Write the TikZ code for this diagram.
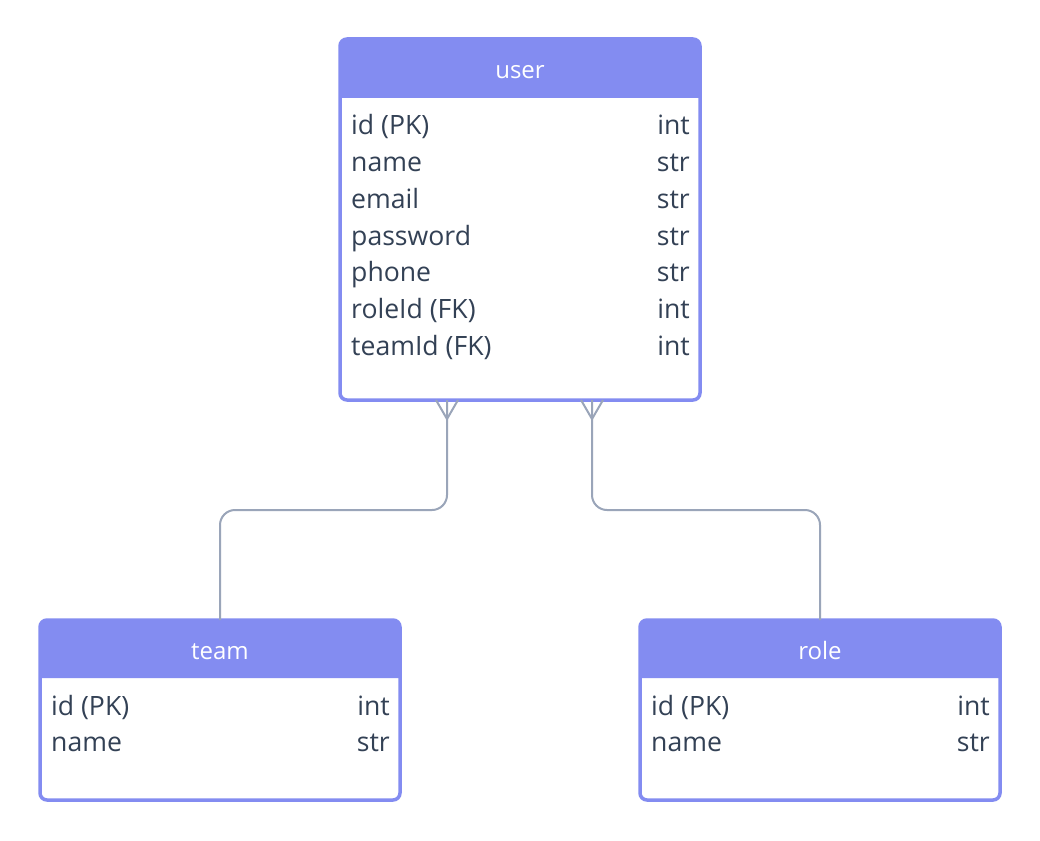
\documentclass[tikz,border=0pt]{standalone}
\usepackage{fontspec}
\setmainfont{Open Sans}

\definecolor{erhead}{HTML}{838CF1}
\definecolor{erline}{HTML}{9AA5B9}
\definecolor{ertext}{HTML}{334155}

\tikzset{
    tablebox/.style={draw=erhead, line width=3.5pt, rounded corners=7pt,
        minimum width=360pt, inner sep=0pt, outer sep=0pt},
    tabletitle/.style={text=white, font=\fontsize{24}{28}\selectfont, anchor=base, inner sep=0pt},
    field/.style={text=ertext, font=\fontsize{26.6}{30}\selectfont, anchor=base west, inner sep=0pt},
    ftype/.style={text=ertext, font=\fontsize{26.6}{30}\selectfont, anchor=base east, inner sep=0pt},
    rel/.style={draw=erline, line width=2pt, rounded corners=15pt},
    crow/.style={draw=erline, line width=2pt}
}

\begin{document}
\begin{tikzpicture}[x=1pt, y=-1pt]
            \fill[white] (0,0) rectangle (1040,840);

            % tables
            \node[tablebox, minimum height=361pt] (user) at (520,219.5) {};
            \node[tablebox, minimum height=180pt] (team) at (220,710) {};
            \node[tablebox, minimum height=180pt] (role) at (820,710) {};

            % headers
            \fill[erhead] ([yshift=-59pt]user.north west) [rounded corners=7pt] -- (user.north west)
                -- (user.north east) [sharp corners] -- ([yshift=-59pt]user.north east) -- cycle;
            \fill[erhead] ([yshift=-58pt]team.north west) [rounded corners=7pt] -- (team.north west)
                -- (team.north east) [sharp corners] -- ([yshift=-58pt]team.north east) -- cycle;
            \fill[erhead] ([yshift=-58pt]role.north west) [rounded corners=7pt] -- (role.north west)
                -- (role.north east) [sharp corners] -- ([yshift=-58pt]role.north east) -- cycle;

            \node[tabletitle] (user-title) at (520,79) {user};
            \node[tabletitle] (team-title) at (220,659) {team};
            \node[tabletitle] (role-title) at (820,659) {role};

            % user fields
            \node[field] (user-id) at (351,135) {id (PK)};
            \node[field] (user-name) at (351,171.7) {name};
            \node[field] (user-email) at (351,208.3) {email};
            \node[field] (user-password) at (351,245) {password};
            \node[field] (user-phone) at (351,281.7) {phone};
            \node[field] (user-roleid) at (351,318.3) {roleId (FK)};
            \node[field] (user-teamid) at (351,355) {teamId (FK)};
            \node[ftype] (user-id-t) at (690,135) {int};
            \node[ftype] (user-name-t) at (690,171.7) {str};
            \node[ftype] (user-email-t) at (690,208.3) {str};
            \node[ftype] (user-password-t) at (690,245) {str};
            \node[ftype] (user-phone-t) at (690,281.7) {str};
            \node[ftype] (user-roleid-t) at (690,318.3) {int};
            \node[ftype] (user-teamid-t) at (690,355) {int};

            % team fields
            \node[field] (team-id) at (51,715) {id (PK)};
            \node[field] (team-name) at (51,751.7) {name};
            \node[ftype] (team-id-t) at (390,715) {int};
            \node[ftype] (team-name-t) at (390,751.7) {str};

            % role fields
            \node[field] (role-id) at (651,715) {id (PK)};
            \node[field] (role-name) at (651,751.7) {name};
            \node[ftype] (role-id-t) at (990,715) {int};
            \node[ftype] (role-name-t) at (990,751.7) {str};

            % relations
            \coordinate (team-fk) at ([xshift=107pt]user.south west);
            \coordinate (role-fk) at ([xshift=252pt]user.south west);

            \draw[rel] (team-fk) -- ++(0,110) -| (team.north);
            \draw[rel] (role-fk) -- ++(0,110) -| (role.north);

            \draw[crow] ([xshift=-11pt]team-fk) -- ([yshift=-19pt]team-fk) -- ([xshift=11pt]team-fk);
            \draw[crow] ([xshift=-11pt]role-fk) -- ([yshift=-19pt]role-fk) -- ([xshift=11pt]role-fk);
        \end{tikzpicture}
\end{document}
